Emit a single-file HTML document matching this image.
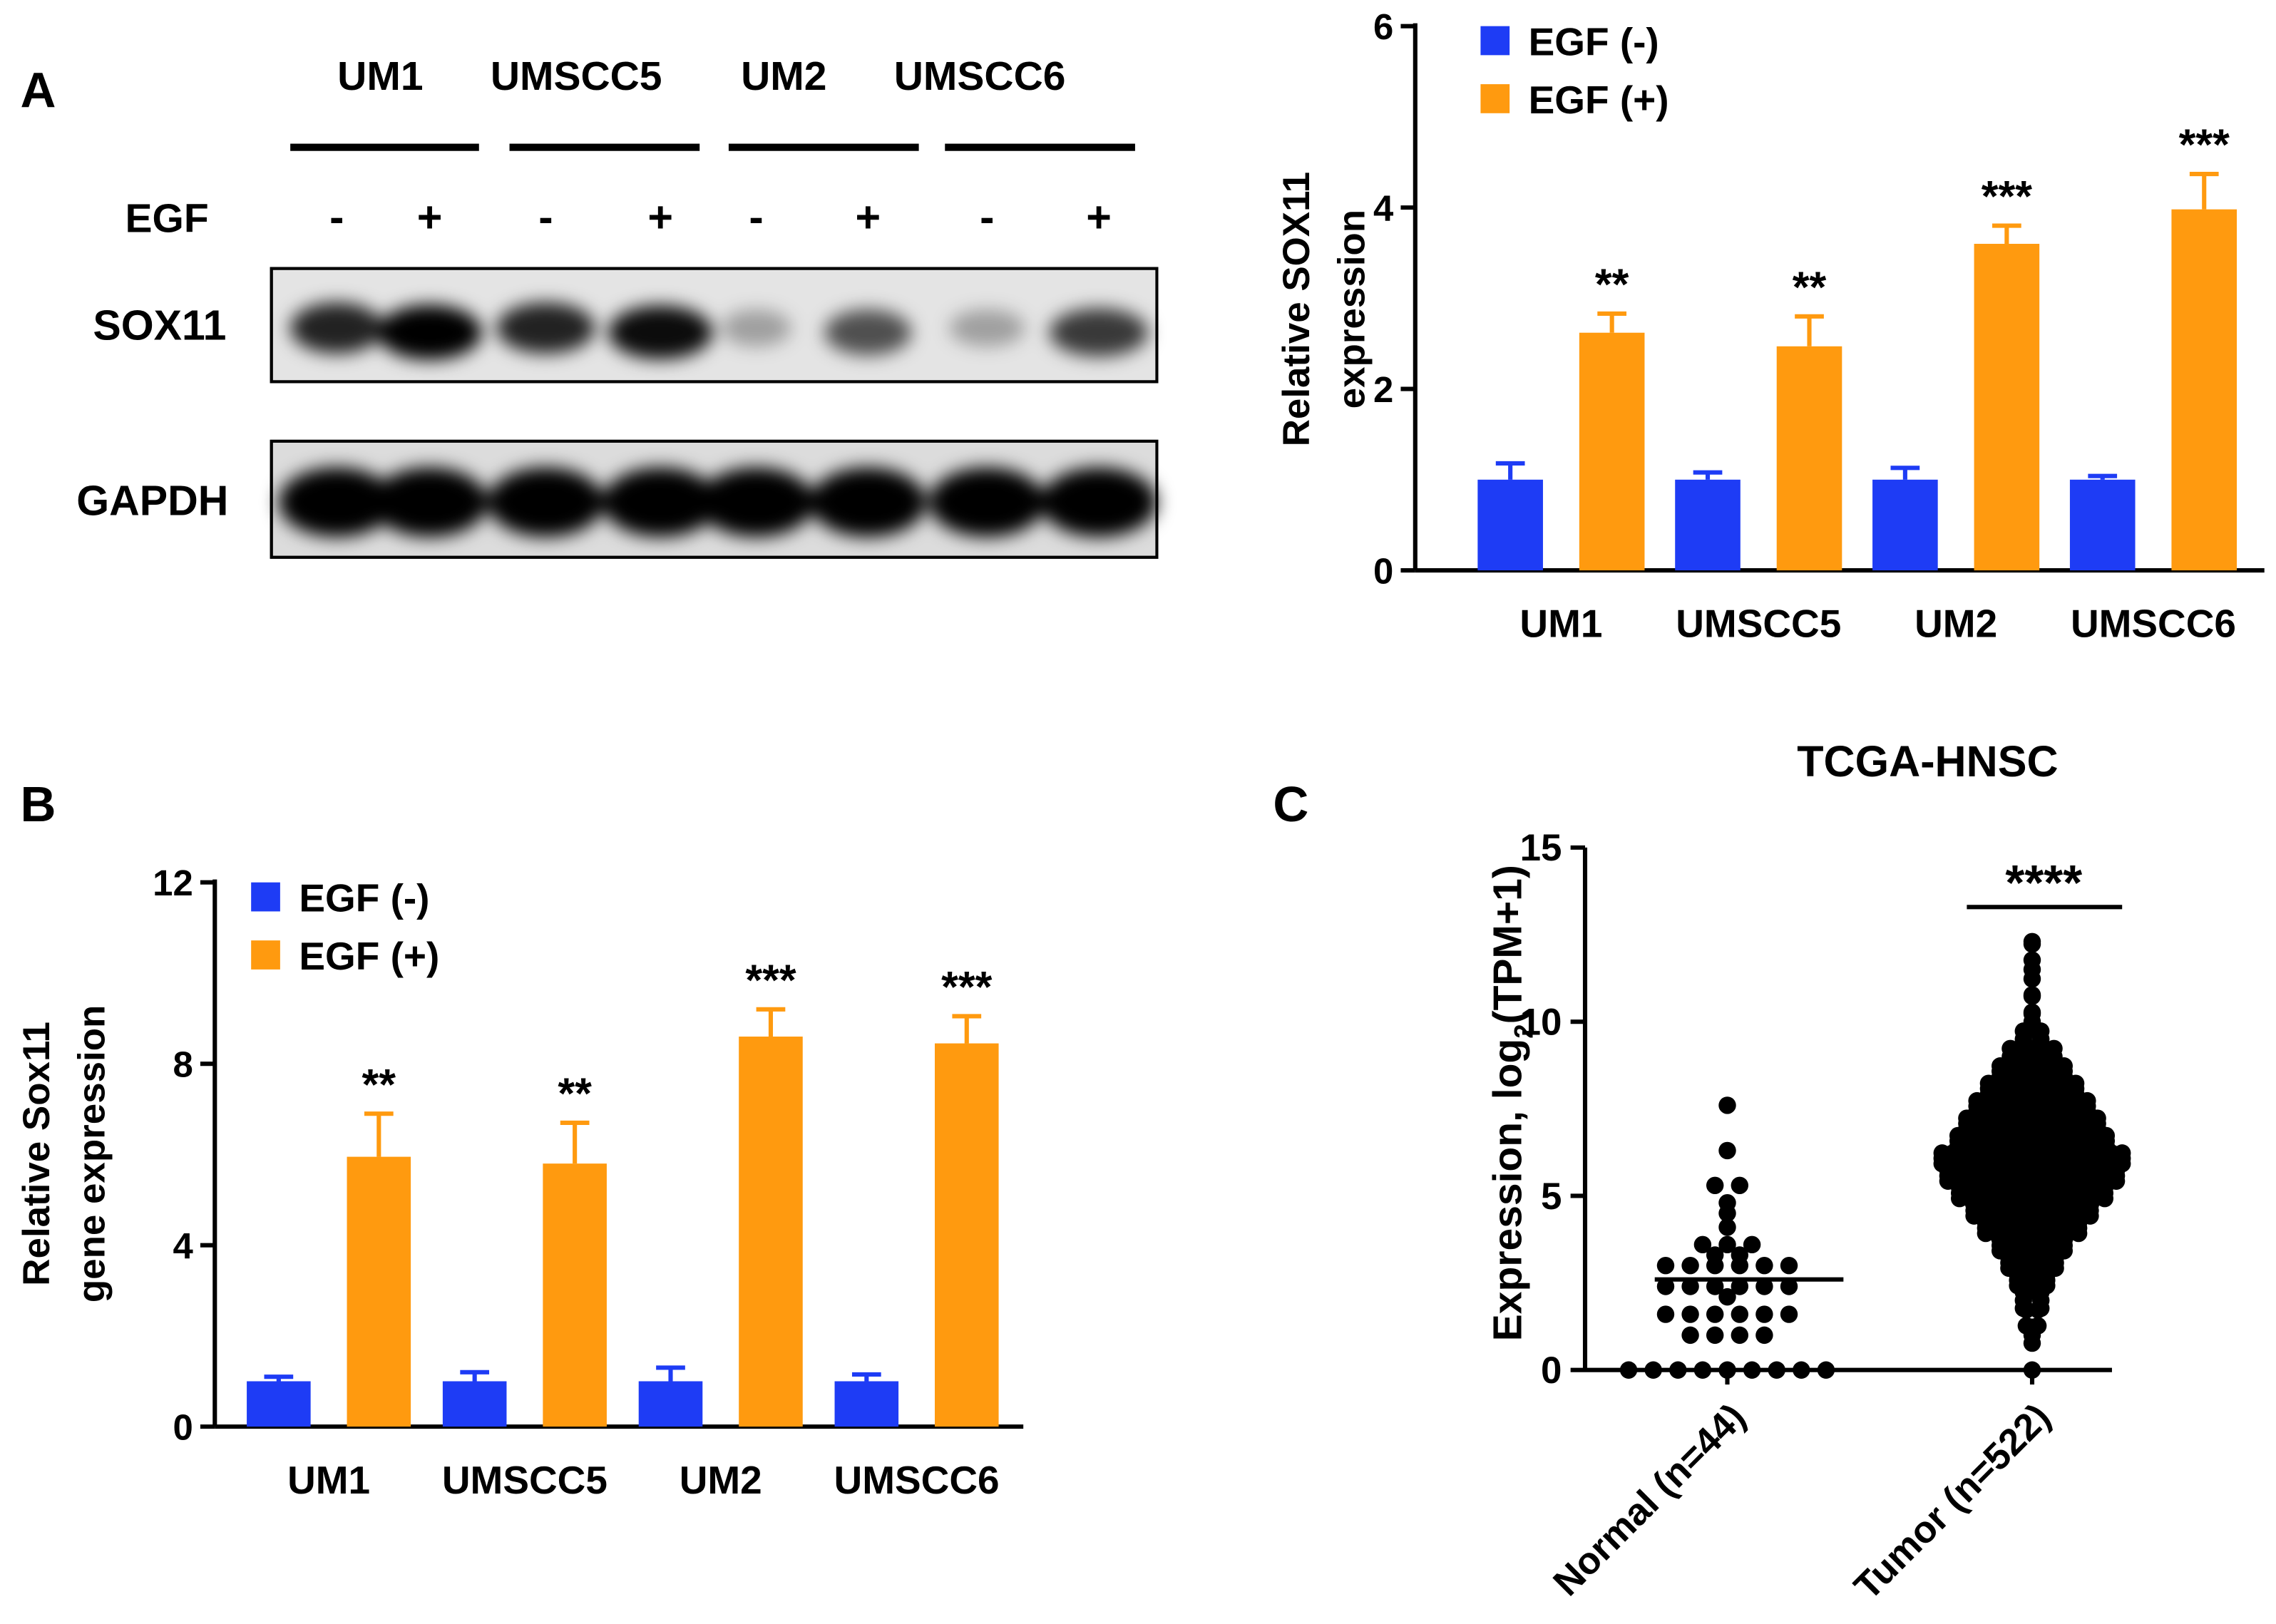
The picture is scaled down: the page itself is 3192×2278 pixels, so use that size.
<!DOCTYPE html>
<html><head><meta charset="utf-8"><style>
html,body{margin:0;padding:0;background:#fff}
svg{display:block}
text{font-family:"Liberation Sans",Arial,sans-serif;font-weight:bold;fill:#000}
</style></head><body>
<svg id="fig" xmlns="http://www.w3.org/2000/svg" width="3192" height="2278" viewBox="0 0 1568 1119">
<defs>
<filter id="blur" x="-50%" y="-50%" width="200%" height="200%"><feGaussianBlur stdDeviation="6"/></filter>
</defs>
<rect width="1568" height="1119" fill="#fff"/>
<g id="panelA">
<text x="14" y="74" font-size="34">A</text>
<g id="wb"></g>
</g>
<g id="chartA"></g>
<g id="chartB">
<text x="14" y="566" font-size="34">B</text>
</g>
<g id="chartC">
<text x="877" y="566" font-size="34">C</text>
</g>
</svg>
<script>
const NS="http://www.w3.org/2000/svg";
function mk(parent,tag,attrs,txt){const e=document.createElementNS(NS,tag);for(const k in attrs)e.setAttribute(k,attrs[k]);if(txt!==undefined)e.textContent=txt;parent.appendChild(e);return e;}

// ---------- Data ----------
const cellLines=["UM1","UMSCC5","UM2","UMSCC6"];
const protMinus=[1,1,1,1];
const protMinusErr=[0.18,0.08,0.13,0.04];
const protPlus=[2.62,2.47,3.6,3.98];
const protPlusErr=[0.21,0.33,0.2,0.39];
const protStars=["**","**","***","***"];
const protTicks=[0,2,4,6];

const geneMinus=[1,1,1,1];
const geneMinusErr=[0.1,0.2,0.3,0.15];
const genePlus=[5.95,5.8,8.6,8.45];
const genePlusErr=[0.95,0.9,0.6,0.6];
const geneStars=["**","**","***","***"];
const geneTicks=[0,4,8,12];

const normalVals=[0,0,0,0,0,0,0,0,0,1,1,1,1,1.6,1.6,1.6,1.6,1.6,1.6,2.1,2.4,2.4,2.4,2.4,2.4,2.4,3.0,3.0,3.0,3.0,3.0,3.0,3.3,3.3,3.6,3.6,3.6,4.1,4.5,4.8,5.3,5.3,6.3,7.6];
const normalMedian=2.6;
const tumorBins=[0,1,1.5,2,2.5,3,3.5,4,4.5,5,5.5,6,6.5,7,7.5,8,8.5,9,9.5,10,10.5,11,11.5,12,12.3];
const tumorCounts=[1,3,4,6,10,16,22,32,40,50,58,62,51,45,38,30,22,15,6,3,2,2,1,2,1];
const scatterTicks=[0,5,10,15];

// ---------- Western blot ----------
const wb=document.getElementById('wb');
const lanesX=[232,296,376,455,521,598,680,757];
const soxInt=[0.85,1,0.85,0.95,0.3,0.65,0.3,0.75];
const soxW=[32,36,34,36,24,30,26,34];
const headers=[[262,"UM1"],[397,"UMSCC5"],[540,"UM2"],[675,"UMSCC6"]];
headers.forEach(h=>{const t=mk(wb,'text',{x:h[0],y:62,'font-size':28,'text-anchor':'middle'},h[1]);});
[[200,330],[351,482],[502,633],[651,782]].forEach((b,i)=>{const r=mk(wb,'rect',{x:b[0],y:99,width:b[1]-b[0],height:5,fill:'#000'});});
let t=mk(wb,'text',{x:115,y:160,'font-size':28,'text-anchor':'middle'},"EGF");
lanesX.forEach((x,i)=>{const s=mk(wb,'text',{x:x,y:160,'font-size':30,'text-anchor':'middle'},i%2?"+":"-");});
t=mk(wb,'text',{x:110,y:234,'font-size':29,'text-anchor':'middle'},"SOX11");
t=mk(wb,'text',{x:105,y:355,'font-size':29,'text-anchor':'middle'},"GAPDH");
let box=mk(wb,'rect',{x:187,y:185,width:610,height:78,fill:'#e4e4e4',stroke:'#000','stroke-width':2});
box=mk(wb,'rect',{x:187,y:304,width:610,height:80,fill:'#dcdcdc',stroke:'#000','stroke-width':2});
const gs=mk(wb,'g',{filter:'url(#blur)'});
lanesX.forEach((x,i)=>{
 const e=mk(gs,'ellipse',{cx:x,cy:226+(i%2?3:0),rx:soxW[i],ry:10+soxInt[i]*9,fill:'#000',opacity:soxInt[i]});
 
 const g=mk(gs,'ellipse',{cx:x,cy:346,rx:40,ry:24,fill:'#000'});
 
});
mk(wb,'rect',{x:187,y:185,width:610,height:78,fill:'none',stroke:'#000','stroke-width':2});
mk(wb,'rect',{x:187,y:304,width:610,height:80,fill:'none',stroke:'#000','stroke-width':2});

// ---------- Bar chart helper ----------
function barChart(g,o){
 const y=v=>o.y0-(v-0)*(o.y0-o.yTop)/o.yMax;
 const xg=i=>o.x0+o.first+i*o.step;
 let a=mk(g,'line',{x1:o.x0,y1:o.yTop-2,x2:o.x0,y2:o.y0,stroke:'#000','stroke-width':3});
 a=mk(g,'line',{x1:o.x0,y1:o.y0,x2:o.xEnd,y2:o.y0,stroke:'#000','stroke-width':3});
 o.ticks.forEach(v=>{mk(g,'line',{x1:o.x0-10,y1:y(v),x2:o.x0,y2:y(v),stroke:'#000','stroke-width':3});
  const tl=mk(g,'text',{x:o.x0-15,y:y(v)+9,'font-size':25,'text-anchor':'end'},v);});
 o.cats.forEach((c,i)=>{
  const cx=xg(i);
  [[o.minus[i],o.minusErr[i],'#1e3cf5',cx],[o.plus[i],o.plusErr[i],'#ff9a0f',cx+o.bw+o.gap]].forEach((b,j)=>{
   const bx=b[3];
   const top=y(b[0]+b[1]);
   mk(g,'line',{x1:bx+o.bw/2,y1:top,x2:bx+o.bw/2,y2:y(b[0]),stroke:b[2],'stroke-width':3});
   mk(g,'line',{x1:bx+o.bw/2-10,y1:top,x2:bx+o.bw/2+10,y2:top,stroke:b[2],'stroke-width':3});
   const r=mk(g,'rect',{x:bx,y:y(b[0]),width:o.bw,height:y(0)-y(b[0]),fill:b[2]});
   
   if(j){const s=mk(g,'text',{x:bx+o.bw/2,y:top-10,'font-size':30,'text-anchor':'middle'},o.stars[i]);}
  });
  const xl=mk(g,'text',{x:cx+o.bw+o.gap/2,y:o.y0+o.labelDy,'font-size':27,'text-anchor':'middle'},c);
  
 });
 [[o.legY,'#1e3cf5','EGF (-)'],[o.legY+40,'#ff9a0f','EGF (+)']].forEach(l=>{
  const r=mk(g,'rect',{x:o.legX,y:l[0],width:20,height:20,fill:l[1]});
  const tt=mk(g,'text',{x:o.legX+33,y:l[0]+20,'font-size':27},l[2]);
 });
 o.title.forEach((s,k)=>{const tx=o.titleX+k*38;const tt=mk(g,'text',{x:tx,y:o.titleY,'font-size':26,'text-anchor':'middle',transform:`rotate(-90 ${tx} ${o.titleY})`},s);});
}
barChart(document.getElementById('chartA'),{x0:975,xEnd:1560,y0:393,yTop:18,yMax:6,first:43,step:136,bw:45,gap:25,cats:cellLines,minus:protMinus,minusErr:protMinusErr,plus:protPlus,plusErr:protPlusErr,stars:protStars,ticks:protTicks,labelDy:46,legX:1020,legY:18,title:["Relative SOX11","expression"],titleX:902,titleY:213});
barChart(document.getElementById('chartB'),{x0:148,xEnd:705,y0:983,yTop:608,yMax:12,first:22,step:135,bw:44,gap:25,cats:cellLines,minus:geneMinus,minusErr:geneMinusErr,plus:genePlus,plusErr:genePlusErr,stars:geneStars,ticks:geneTicks,labelDy:46,legX:173,legY:608,title:["Relative Sox11","gene expression"],titleX:34,titleY:795});

// ---------- Scatter ----------
(function(){
 const g=document.getElementById('chartC');
 const x0=1092,y0=944,yTop=584,yMax=15,xEnd=1455;
 const y=v=>y0-v*(y0-yTop)/yMax;
 const nx=1190,tx=1400;
 let a=mk(g,'line',{x1:x0,y1:yTop,x2:x0,y2:y0,stroke:'#000','stroke-width':3});
 a=mk(g,'line',{x1:x0,y1:y0,x2:xEnd,y2:y0,stroke:'#000','stroke-width':3});
 scatterTicks.forEach(v=>{mk(g,'line',{x1:x0-10,y1:y(v),x2:x0,y2:y(v),stroke:'#000','stroke-width':3});
  const tl=mk(g,'text',{x:x0-16,y:y(v)+9,'font-size':26,'text-anchor':'end'},v);});
 [nx,tx].forEach(x=>mk(g,'line',{x1:x,y1:y0,x2:x,y2:y0+10,stroke:'#000','stroke-width':3}));
 let tt=mk(g,'text',{x:1328,y:535,'font-size':30,'text-anchor':'middle'},"TCGA-HNSC");
 tt=mk(g,'text',{x:1048,y:760,'font-size':28,'text-anchor':'middle',transform:'rotate(-90 1048 760)'});
 mk(tt,'tspan',{},"Expression, log");mk(tt,'tspan',{'font-size':18,dy:8},"2");mk(tt,'tspan',{dy:-8},"(TPM+1)");
 [[nx,"Normal (n=44)"],[tx,"Tumor (n=522)"]].forEach(l=>{const x=l[0]+14,yy=y0+34;const t2=mk(g,'text',{x:x,y:yy,'font-size':26,'text-anchor':'end',transform:`rotate(-45 ${x} ${yy})`},l[1]);});
 const groups={};normalVals.forEach(v=>{(groups[v]=groups[v]||[]).push(v);});
 Object.keys(groups).forEach(k=>{const n=groups[k].length;groups[k].forEach((v,i)=>{const c=mk(g,'circle',{cx:nx+(i-(n-1)/2)*17,cy:y(v),r:6,fill:'#000'});});});
 let m=mk(g,'line',{x1:nx-50,y1:y(normalMedian),x2:nx+80,y2:y(normalMedian),stroke:'#000','stroke-width':3});
 const maxC=Math.max(...tumorCounts);
 tumorBins.forEach((v,b)=>{const n=tumorCounts[b];
  const hw=Math.max(0,62*n/maxC);
  const cap=Math.max(1,Math.floor(2*hw/7)+1);
  const rows=Math.ceil(n/cap);let k=0;
  for(let r=0;r<rows;r++){const cnt=Math.min(cap,n-k);const yy=y(v)+(rows>1?(r/(rows-1)-0.5)*11:0);
   const spc=cnt>1?Math.min(14,2*hw/(cnt-1)):0;
   for(let i=0;i<cnt;i++){const c=mk(g,'circle',{cx:tx+(i-(cnt-1)/2)*spc,cy:yy,r:6,fill:'#000'});k++;}}
 });
 m=mk(g,'line',{x1:1355,y1:625,x2:1462,y2:625,stroke:'#000','stroke-width':3});
 tt=mk(g,'text',{x:1408,y:620,'font-size':34,'text-anchor':'middle'},"****");
})();
</script>
</body></html>
